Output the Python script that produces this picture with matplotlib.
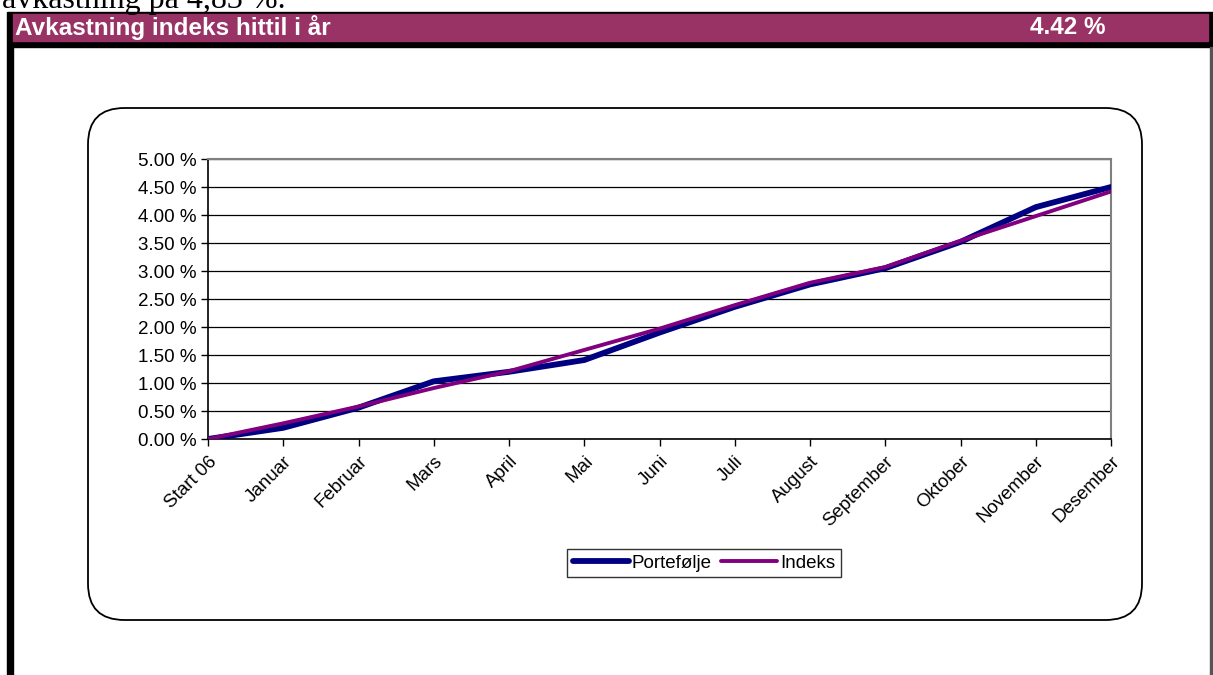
import matplotlib.pyplot as plt
import matplotlib.patches as mpatches
from matplotlib.ticker import FuncFormatter, MultipleLocator

months = ['Start 06', 'Januar', 'Februar', 'Mars', 'April', 'Mai', 'Juni',
          'Juli', 'August', 'September', 'Oktober', 'November', 'Desember']
portefolje = [0.00, 0.20, 0.56, 1.03, 1.20, 1.41, 1.90, 2.36, 2.76, 3.05, 3.52, 4.14, 4.50]
indeks = [0.00, 0.28, 0.58, 0.91, 1.21, 1.59, 1.97, 2.39, 2.79, 3.07, 3.54, 3.98, 4.42]
header_title = 'Avkastning indeks hittil i år'
header_value = '4.42 %'

W, H = 1213, 675
plt.rcParams['font.family'] = ['Liberation Sans', 'DejaVu Sans']
fig = plt.figure(figsize=(W / 100, H / 100), dpi=100)

def fx(px):
    return px / W

def fy(py):
    return 1 - py / H

# text line above the box (cropped by the page edge in the source)
fig.text(fx(2), fy(8), 'avkastning på 4,83 %.', family='Liberation Serif',
         fontsize=23, va='baseline', ha='left', color='black')

# outer frame + header bar
fig.patches.append(mpatches.Rectangle((fx(7), fy(47)), fx(1206), fy(12) - fy(47),
                                      transform=fig.transFigure, color='black', zorder=1))
fig.patches.append(mpatches.Rectangle((fx(13), fy(41)), fx(1195), fy(14) - fy(41),
                                      transform=fig.transFigure, color='#993366', zorder=2))
fig.patches.append(mpatches.Rectangle((fx(7), 0), fx(6), fy(47),
                                      transform=fig.transFigure, color='black', zorder=1))
fig.patches.append(mpatches.Rectangle((fx(1210), 0), fx(1.5), fy(47),
                                      transform=fig.transFigure, color='#555555', zorder=1))
fig.text(fx(15), fy(28), header_title, color='white', fontsize=17.5, fontweight='bold',
         va='center', ha='left')
fig.text(fx(1106), fy(28), header_value, color='white', fontsize=17.5, fontweight='bold',
         va='center', ha='right')

# rounded chart box
fig.patches.append(mpatches.FancyBboxPatch((fx(88), fy(620)), fx(1142 - 88), fy(108) - fy(620),
                                           boxstyle='round,pad=0,rounding_size=0.03',
                                           transform=fig.transFigure, facecolor='white',
                                           edgecolor='black', linewidth=1.3, zorder=1,
                                           mutation_aspect=W / H))

ax = fig.add_axes([fx(208), fy(439), fx(1111 - 208), fy(159) - fy(439)])
x = list(range(len(months)))
ax.plot(x, portefolje, color='#000080', linewidth=4.2, label='Portefølje',
        solid_capstyle='round', solid_joinstyle='round', zorder=3)
ax.plot(x, indeks, color='#800080', linewidth=2.8, label='Indeks',
        solid_capstyle='round', solid_joinstyle='round', zorder=4)

ax.set_xlim(0, len(months) - 1)
ax.set_ylim(0, 5)
ax.yaxis.set_major_locator(MultipleLocator(0.5))
ax.yaxis.set_major_formatter(FuncFormatter(lambda v, p: f'{v:.2f} %'))
ax.set_xticks(x)
ax.set_xticklabels(months, rotation=45, ha='right', rotation_mode='anchor')
ax.tick_params(axis='both', direction='out', length=5, width=1, color='black',
               labelsize=13.5, pad=3)
ax.tick_params(axis='x', pad=5)
ax.grid(axis='y', color='black', linewidth=0.9)
ax.set_axisbelow(True)
for s in ['top', 'right']:
    ax.spines[s].set_color('#808080')
    ax.spines[s].set_linewidth(1.5)
for s in ['left', 'bottom']:
    ax.spines[s].set_color('black')
    ax.spines[s].set_linewidth(1.2)
ax.set_facecolor('white')
ax.set_zorder(3)

leg = fig.legend(loc='center', bbox_to_anchor=(fx(704), fy(563)), ncol=2,
                 frameon=True, fancybox=False, edgecolor='black', fontsize=13.5,
                 handlelength=3.0, handletextpad=0.15, columnspacing=0.5,
                 borderpad=0.3)
leg.get_frame().set_linewidth(1.0)
leg.set_zorder(5)

fig.savefig('out.png', dpi=100)
